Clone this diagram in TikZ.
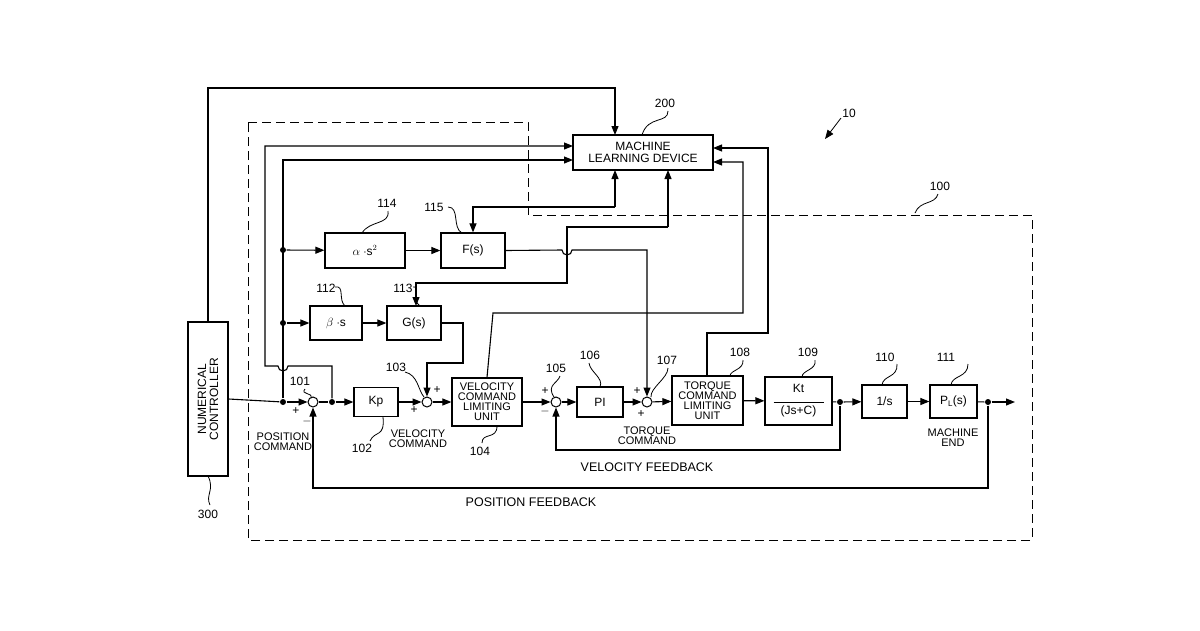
\documentclass[tikz,border=0pt]{standalone}
\usepackage{fontspec}
\setmainfont{Liberation Sans}
\usetikzlibrary{arrows.meta,calc}
\begin{document}
\begin{tikzpicture}[x=1pt,y=-1pt,line width=1.1pt,
 blk/.style={draw,line width=1.2pt,inner sep=0pt,font=\fontsize{12}{12}\selectfont,align=center},
 sm/.style={draw,circle,line width=1pt,minimum size=10pt,inner sep=0pt},
 dot/.style={fill,circle,minimum size=6pt,inner sep=0pt},
 ar/.style={-{Triangle[length=9pt,width=7pt]}},
 lbl/.style={font=\fontsize{12}{12}\selectfont},
 tx/.style={font=\fontsize{11}{10}\selectfont,align=center,inner sep=0pt},
 pm/.style={font=\fontsize{12}{12}\selectfont,inner sep=0pt},
 ld/.style={line width=0.8pt}]
\useasboundingbox (0,0) rectangle (1200,630);
% dashed box 100
\draw[dashed,line width=1pt,dash pattern=on 9pt off 5pt] (248,122) -- (528,122) -- (528,215) -- (1032,215) -- (1032,540) -- (248,540) -- cycle;
% blocks
\node[blk,minimum width=40pt,minimum height=154pt] (nc) at (208,399) {};
\node[rotate=90,tx,font=\fontsize{12}{12}\selectfont] at (208,399) {NUMERICAL\\CONTROLLER};
\node[blk,minimum width=140pt,minimum height=35pt] (mld) at (643,152.5) {MACHINE\\LEARNING DEVICE};
\node[blk,minimum width=80pt,minimum height=35pt] (al) at (365,250.5) {$\alpha$ $\cdot$s$^2$};
\node[blk,minimum width=64pt,minimum height=35pt] (fs) at (473,250.5) {F(s)};
\node[blk,minimum width=52pt,minimum height=34pt] (be) at (336,323) {$\beta$ $\cdot$s};
\node[blk,minimum width=54pt,minimum height=34pt] (gs) at (414,323) {G(s)};
\node[blk,minimum width=44pt,minimum height=29pt] (kp) at (376,402) {Kp};
\node[blk,minimum width=70pt,minimum height=48pt,font=\fontsize{11}{10}\selectfont] (vcl) at (487,402) {VELOCITY\\COMMAND\\LIMITING\\UNIT};
\node[blk,minimum width=46pt,minimum height=30pt] (pi) at (600,402) {PI};
\node[blk,minimum width=71pt,minimum height=49pt,font=\fontsize{11}{10}\selectfont] (tcl) at (707.5,400.5) {TORQUE\\COMMAND\\LIMITING\\UNIT};
\node[blk,minimum width=67pt,minimum height=48pt] (kt) at (798.5,401) {Kt\\[-2pt]\rule{50pt}{0.6pt}\\(Js+C)};
\node[blk,minimum width=45pt,minimum height=33pt] (is) at (884.5,401.5) {1/s};
\node[blk,minimum width=47pt,minimum height=33pt] (pl) at (953.5,401.5) {P$_{\mathrm{L}}$(s)};
% sums and dots
\node[sm] (s101) at (313,402) {};
\node[sm] (s103) at (427,402) {};
\node[sm] (s105) at (556,402) {};
\node[sm] (s107) at (647,402) {};
\node[dot] (d1) at (283,402) {};
\node[dot] (d2) at (332,402) {};
\node[dot] (d3) at (283,250) {};
\node[dot] (d4) at (283,323) {};
\node[dot] (d5) at (840,402) {};
\node[dot] (d6) at (988,402) {};
\coordinate (out) at (1015,402);
% main line
\draw (nc.east) -- (d1);
\draw[ar] (d1) -- (s101);
\draw (s101) -- (d2);
\draw[ar] (d2) -- (kp);
\draw[ar] (kp) -- (s103);
\draw[ar] (s103) -- (vcl);
\draw[ar] (vcl) -- (s105);
\draw[ar] (s105) -- (pi);
\draw[ar] (pi) -- (s107);
\draw[ar] (s107) -- (tcl);
\draw[ar] (tcl) -- (kt);
\draw (kt) -- (d5);
\draw[ar] (d5) -- (is);
\draw[ar] (is) -- (pl);
\draw (pl) -- (d6);
\draw[ar] (d6) -- (out);
% feedbacks
\draw[ar] (d5) -- (840,450) -| (s105.south);
\draw[ar] (d6) -- (988,488) -| (s101.south);
% NC to MLD
\draw[ar] (nc.north) -- (208,88) -- (615,88) -- (615,135);
% signals to MLD
\draw[ar] (d2) -- (332,366) -- (288,366) arc (0:180:5) -- (265,366) -- (265,146) -- (573,146);
\draw[ar] (d1) -- (283,160) -- (573,160);
\draw[ar] (d3) -- (al);
\draw[ar] (al) -- (fs);
\draw[ar] (d4) -- (be);
\draw[ar] (be) -- (gs);
\draw[ar] (gs.east) -- (463,323) -- (463,363) -- (427,363) -- (s103.north);
\draw[ar] (fs.east) -- (562,250) arc (180:0:5) -- (647,250) -- (s107.north);
\draw[ar] (615,207) -- (615,170);
\draw[ar] (615,207) -- (473,207) -- (fs.north);
\draw[ar] (668,227) -- (668,170);
\draw[ar] (668,227) -- (567,227) -- (567,283) -- (416,283) -- (416,306);
\draw[ar] (vcl.north) -- (493,313) -- (743,313) -- (743,162) -- (713,162);
\draw[ar] (707,376) -- (707,333) -- (768,333) -- (768,148) -- (713,148);
% signs
\node[pm] at (296,411) {+};
\node[pm] at (307,421) {$-$};
\node[pm] at (414,410) {+};
\node[pm] at (437,390) {+};
\node[pm] at (545,391) {+};
\node[pm] at (545,411) {$-$};
\node[pm] at (637,391) {+};
\node[pm] at (641,414) {+};
% text labels
\node[tx] at (283,442) {POSITION\\COMMAND};
\node[tx] at (418,439) {VELOCITY\\COMMAND};
\node[tx] at (647,436) {TORQUE\\COMMAND};
\node[tx] at (953,438) {MACHINE\\END};
\node[tx,font=\fontsize{12.5}{12}\selectfont] at (647,467) {VELOCITY FEEDBACK};
\node[tx,font=\fontsize{12.5}{12}\selectfont] at (531,502) {POSITION FEEDBACK};
% reference numerals with leaders
\node[lbl] (l101) at (300,381) {101};
\draw[ld] (305,389) .. controls (300,395) and (313,392) .. (311,398);
\node[lbl] (l102) at (362,448) {102};
\draw[ld] (370,441) .. controls (375,430) and (385,438) .. (383,417);
\node[lbl] (l103) at (396,367) {103};
\draw[ld] (405,372) .. controls (418,375) and (418,390) .. (424,397);
\node[lbl] (l104) at (480,451) {104};
\draw[ld] (482,443) .. controls (482,432) and (497,440) .. (497,426);
\node[lbl] (l105) at (556,368) {105};
\draw[ld] (560,376) .. controls (558,383) and (546,385) .. (554,397);
\node[lbl] (l106) at (590,355) {106};
\draw[ld] (589,363) .. controls (590,372) and (604,378) .. (600,387);
\node[lbl] (l107) at (667,360) {107};
\draw[ld] (668,368) .. controls (668,378) and (650,388) .. (651,397);
\node[lbl] (l108) at (740,352) {108};
\draw[ld] (743,360) .. controls (744,370) and (730,370) .. (730,376);
\node[lbl] (l109) at (808,352) {109};
\draw[ld] (815,360) .. controls (817,370) and (802,370) .. (802,377);
\node[lbl] (l110) at (885,357) {110};
\draw[ld] (897,364) .. controls (898,378) and (883,375) .. (882,385);
\node[lbl] (l111) at (946,357) {111};
\draw[ld] (968,364) .. controls (968,378) and (952,375) .. (951,385);
\node[lbl] (l112) at (326,288) {112};
\draw[ld] (335,287) .. controls (345,285) and (338,300) .. (345,306);
\node[lbl] (l113) at (403,288) {113};
\draw[ld] (413,287) .. controls (420,285) and (411,300) .. (420,306);
\node[lbl] (l114) at (387,203) {114};
\draw[ld] (388,211) .. controls (390,225) and (370,220) .. (362,233);
\node[lbl] (l115) at (434,207) {115};
\draw[ld] (448,207) .. controls (460,207) and (452,228) .. (462,233);
\node[lbl] (l200) at (665,103) {200};
\draw[ld] (668,111) .. controls (668,124) and (648,115) .. (642,135);
\node[lbl] (l100) at (940,186) {100};
\draw[ld] (938,194) .. controls (935,205) and (920,200) .. (915,213);
\node[lbl] (l300) at (208,514) {300};
\draw[ld] (210,505) .. controls (205,495) and (215,490) .. (208,476);
\node[lbl] (l10) at (849,113) {10};
\draw[ld,-{Triangle[length=9pt,width=7pt]}] (841,118) -- (825,139);
\end{tikzpicture}
\end{document}
